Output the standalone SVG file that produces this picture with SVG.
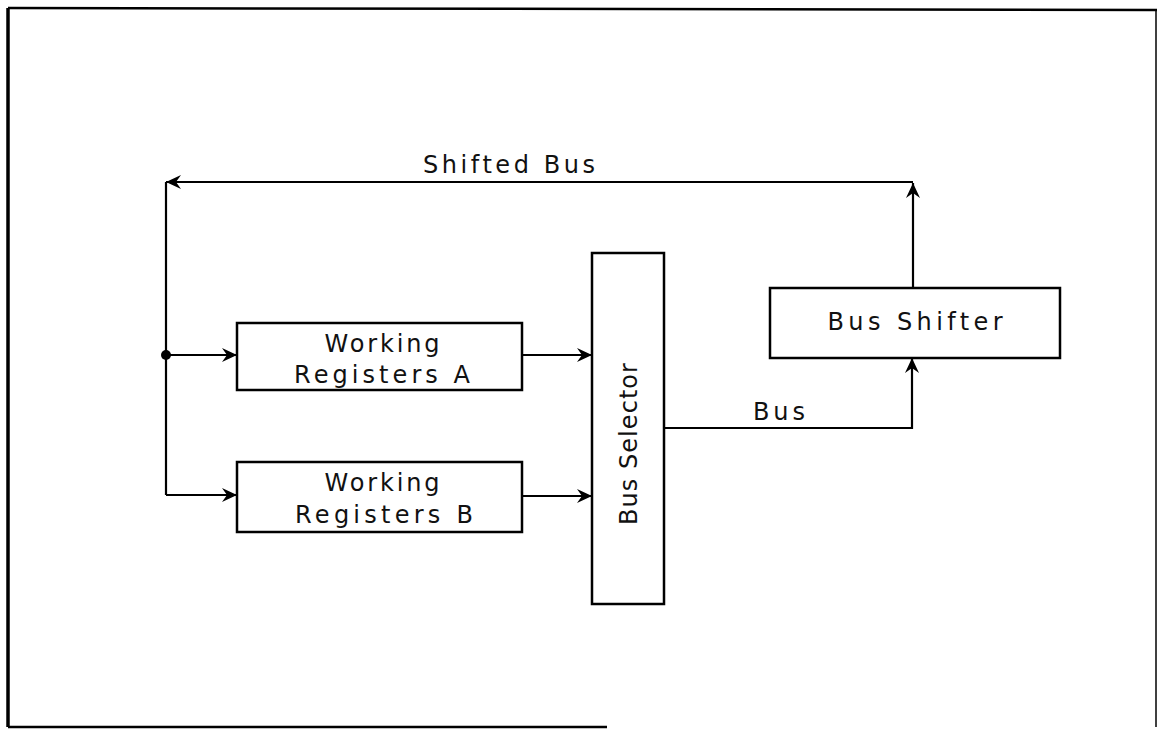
<svg xmlns="http://www.w3.org/2000/svg" width="1158" height="730" viewBox="0 0 1158 730">
<style>
.box{fill:#fff;stroke:#000;stroke-width:2.5}
.ln{fill:none;stroke:#000;stroke-width:2.2}
.frame{fill:none;stroke:#000}
.t{font-family:"DejaVu Sans","Liberation Sans",sans-serif;font-size:24px;fill:#111;text-anchor:middle}
</style>
<defs>
<marker id="ah" markerUnits="userSpaceOnUse" viewBox="-16 -8 17 16" refX="0" refY="0" markerWidth="17" markerHeight="16" orient="auto">
<path d="M0 0 L-15 -7 L-10 0 L-15 7 Z" fill="#000"/>
</marker>
</defs>
<g id="frame">
<path class="frame" stroke-width="3.5" d="M8 727 V8"/>
<path class="frame" stroke-width="2.5" d="M8 8 L1157 10"/>
<path class="frame" stroke-width="1.5" d="M1156 10 V727"/>
<path class="frame" stroke-width="2.5" d="M8 727 H607"/>
</g>
<g id="connectors">
<path class="ln" d="M913 288 V183" marker-end="url(#ah)"/>
<path class="ln" d="M913 182 H166" marker-end="url(#ah)"/>
<path class="ln" d="M166 182 V495"/>
<path class="ln" d="M166 355 H237" marker-end="url(#ah)"/>
<path class="ln" d="M166 495 H237" marker-end="url(#ah)"/>
<circle cx="166" cy="355" r="5" fill="#000"/>
<path class="ln" d="M522 355 H592" marker-end="url(#ah)"/>
<path class="ln" d="M522 496 H592" marker-end="url(#ah)"/>
<path class="ln" d="M664 428 H912 V358" marker-end="url(#ah)"/>
<text class="t" x="509" y="173" textLength="172" lengthAdjust="spacing">Shifted Bus</text>
<text class="t" x="779" y="420" textLength="52" lengthAdjust="spacing">Bus</text>
</g>
<g id="working-registers-a">
<rect class="box" x="237" y="323" width="285" height="67"/>
<text class="t" x="382" y="352" textLength="115" lengthAdjust="spacing">Working</text>
<text class="t" x="382" y="383" textLength="176" lengthAdjust="spacing">Registers A</text>
</g>
<g id="working-registers-b">
<rect class="box" x="237" y="462" width="285" height="70"/>
<text class="t" x="382" y="491" textLength="115" lengthAdjust="spacing">Working</text>
<text class="t" x="384" y="523" textLength="178" lengthAdjust="spacing">Registers B</text>
</g>
<g id="bus-selector">
<rect class="box" x="592" y="253" width="72" height="351"/>
<text class="t" transform="translate(637 444) rotate(-90)" x="0" y="0" textLength="162" lengthAdjust="spacing">Bus Selector</text>
</g>
<g id="bus-shifter">
<rect class="box" x="770" y="288" width="290" height="70"/>
<text class="t" x="915" y="330" textLength="175" lengthAdjust="spacing">Bus Shifter</text>
</g>
</svg>
